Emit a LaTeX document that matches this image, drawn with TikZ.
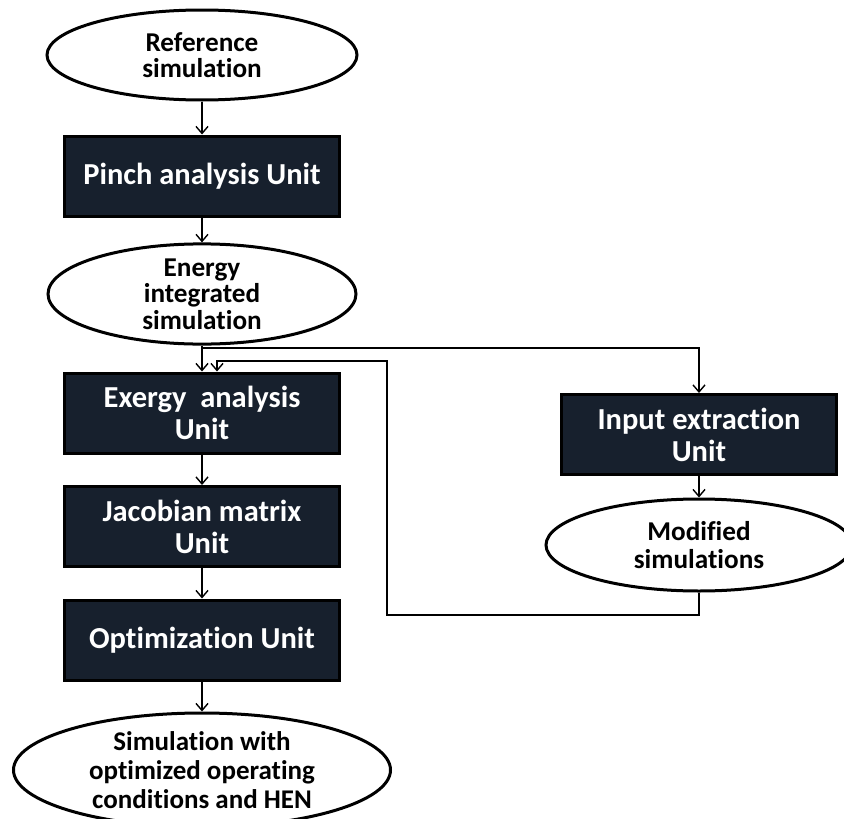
\documentclass[tikz,border=0pt]{standalone}
\usepackage{fontspec}
\setmainfont{Carlito}[Ligatures=NoCommon]
\usetikzlibrary{shapes.geometric,arrows.meta}
\definecolor{navy}{RGB}{23,32,45}
\tikzset{
  unitbox/.style={draw=black, line width=3pt, fill=navy, text=white, minimum width=275pt, minimum height=80pt, inner sep=0pt, align=center, font=\bfseries\fontsize{30.5}{32}\selectfont},
  simell/.style={ellipse, draw=black, line width=3pt, fill=white, inner sep=0pt, align=center, font=\bfseries\fontsize{27.2}{26.5}\selectfont},
  conn/.style={line width=1.4pt, -{Straight Barb[length=7pt,width=12pt,line width=1.4pt]}}
}
\begin{document}
\begin{tikzpicture}[x=1pt,y=-1pt]
\useasboundingbox (0,0) rectangle (844,819);
\clip (0,0) rectangle (844,819);
\fill[white] (0,0) rectangle (844,819);
\node[simell, minimum width=310pt, minimum height=90pt] (ref) at (202,55) {Reference\\simulation};
\node[unitbox] (pinch) at (202,176) {Pinch analysis Unit};
\node[simell, minimum width=308pt, minimum height=90pt] (energy) at (202,294) {Energy\\integrated\\simulation};
\node[unitbox] (exergy) at (202,413) {Exergy\ \ analysis\\Unit};
\node[unitbox] (jacob) at (202,526.5) {Jacobian matrix\\Unit};
\node[unitbox] (optim) at (202,640) {Optimization Unit};
\node[simell, minimum width=377pt, minimum height=114pt, font=\bfseries\fontsize{27}{29}\selectfont] (final) at (202,770) {Simulation with\\optimized operating\\conditions and HEN};
\node[unitbox] (input) at (699,434.5) {Input extraction\\Unit};
\node[simell, minimum width=306pt, minimum height=92pt, font=\bfseries\fontsize{27.2}{28}\selectfont] (mod) at (699,545) {Modified\\simulations};
\coordinate (br) at (202,348);
\coordinate (lb) at (387,615);
\coordinate (lt) at (387,361);
\draw[conn] (ref) -- (pinch);
\draw[conn] (pinch) -- (energy);
\draw[conn] (energy) -- (exergy);
\draw[conn] (exergy) -- (jacob);
\draw[conn] (jacob) -- (optim);
\draw[conn] (optim) -- (final);
\draw[conn] (input) -- (mod);
\draw[conn] (br) -| (input.north);
\draw[conn] (mod.south) |- (lb) -- (lt) -| ([xshift=15pt]exergy.north);
\end{tikzpicture}
\end{document}
